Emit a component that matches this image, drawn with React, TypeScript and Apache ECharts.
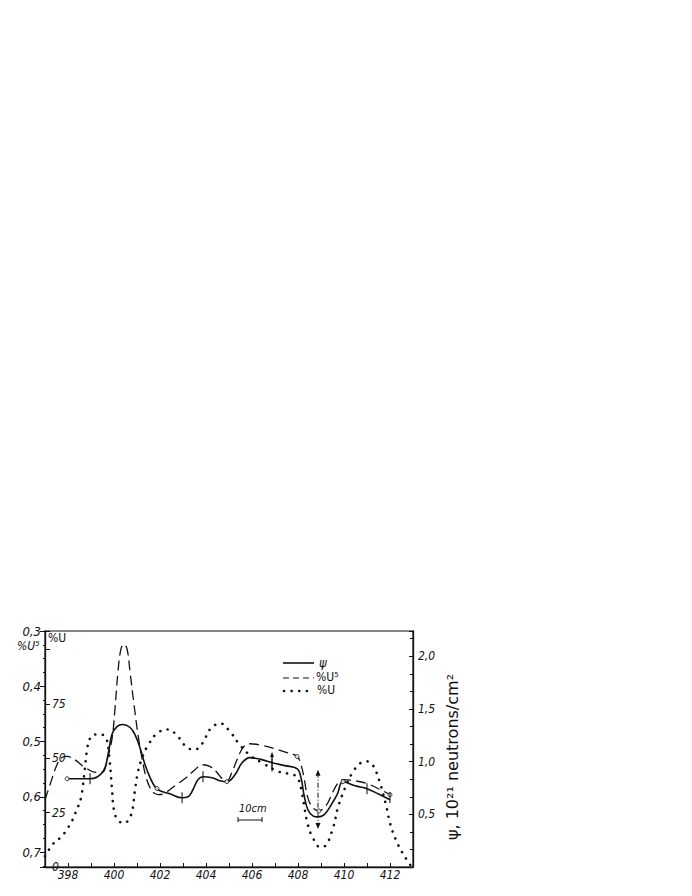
import React, { useEffect, useRef } from "react";
import * as echarts from "echarts";

// Ψ (10^21 neutrons/cm²) – solid curve, right axis
const psi: [number, number][] = [
  [397.96, 0.838], [398.96, 0.838], [399.52, 0.905], [399.74, 1.067], [399.91, 1.257],
  [400.13, 1.333], [400.39, 1.352], [400.7, 1.324], [400.91, 1.257], [401.13, 1.133],
  [401.35, 0.971], [401.57, 0.848], [401.78, 0.762], [402.0, 0.724], [402.43, 0.695],
  [402.96, 0.657], [403.22, 0.667], [403.43, 0.733], [403.65, 0.829], [403.87, 0.857],
  [404.26, 0.848], [404.61, 0.819], [404.91, 0.81], [405.26, 0.876], [405.57, 0.99],
  [405.91, 1.038], [406.43, 1.019], [406.87, 0.99], [407.43, 0.962], [407.96, 0.933],
  [408.13, 0.848], [408.26, 0.686], [408.43, 0.543], [408.65, 0.486], [408.87, 0.476],
  [409.13, 0.495], [409.39, 0.571], [409.7, 0.686], [409.96, 0.81], [410.48, 0.771],
  [411.0, 0.743], [411.48, 0.695], [412.0, 0.638],
];

// %U5 – dashed curve, outer left axis (inverted)
const u5: [number, number][] = [
  [397.0, 0.6055], [397.22, 0.578], [397.52, 0.542], [397.74, 0.529], [397.96, 0.527],
  [398.3, 0.533], [398.74, 0.547], [399.26, 0.556], [399.52, 0.555], [399.7, 0.533],
  [399.91, 0.496], [400.04, 0.442], [400.17, 0.375], [400.3, 0.333], [400.43, 0.324],
  [400.57, 0.333], [400.7, 0.375], [400.87, 0.433], [401.04, 0.487], [401.22, 0.531],
  [401.39, 0.564], [401.57, 0.584], [401.74, 0.593], [401.96, 0.596], [402.22, 0.593],
  [402.65, 0.58], [403.09, 0.567], [403.52, 0.551], [403.83, 0.542], [404.17, 0.545],
  [404.48, 0.556], [404.7, 0.567], [404.91, 0.571], [405.13, 0.555], [405.35, 0.533],
  [405.61, 0.511], [405.91, 0.504], [406.43, 0.507], [407.0, 0.513], [407.52, 0.52],
  [407.96, 0.527], [408.13, 0.542], [408.26, 0.565], [408.43, 0.602], [408.65, 0.62],
  [408.91, 0.625], [409.22, 0.616], [409.52, 0.591], [409.74, 0.575], [409.96, 0.569],
  [410.48, 0.571], [411.0, 0.576], [411.48, 0.585], [412.0, 0.596],
];

// %U – dotted curve, inner left axis
const uPct: [number, number][] = [
  [397.0, 5.0], [397.35, 10.6], [397.7, 13.8], [397.96, 17.4], [398.17, 21.1], [398.3, 24.3],
  [398.43, 27.5], [398.57, 32.1], [398.7, 42.0], [398.83, 54.0], [398.96, 59.2],
  [399.13, 61.0], [399.39, 61.0], [399.65, 59.6], [399.8, 50.0], [399.91, 36.2],
  [400.0, 26.1], [400.17, 21.6], [400.43, 20.2], [400.74, 23.9], [400.91, 35.3],
  [401.04, 43.6], [401.26, 51.4], [401.48, 56.0], [401.87, 61.5], [402.35, 63.3],
  [402.74, 60.5], [403.17, 55.0], [403.52, 54.1], [403.87, 57.3], [404.17, 63.3],
  [404.61, 66.1], [405.04, 62.4], [405.39, 57.3], [405.91, 51.4], [406.48, 47.7],
  [407.13, 44.0], [407.52, 43.1], [407.96, 41.3], [408.17, 33.9], [408.3, 26.1],
  [408.43, 19.3], [408.65, 13.3], [408.96, 9.2], [409.17, 9.6], [409.52, 17.9],
  [409.74, 27.5], [410.04, 36.2], [410.35, 43.1], [410.7, 47.7], [411.0, 48.6],
  [411.26, 46.8], [411.57, 38.5], [411.83, 28.4], [412.0, 20.2], [412.26, 12.4],
  [412.52, 6.9], [412.74, 3.2], [412.91, 0.5],
];

// open circles (Ψ scale)
const circles: [number, number][] = [
  [397.96, 0.838], [401.87, 0.745], [404.91, 0.81], [409.96, 0.81],
  [407.96, 1.048], [408.91, 0.533], [412.0, 0.686],
];
// short vertical marks (Ψ scale)
const marks: [number, number][] = [
  [398.96, 0.838], [402.96, 0.657], [403.87, 0.857], [406.87, 0.99], [411.0, 0.743], [412.0, 0.66],
];
// error bars (Ψ scale)
const errBar: [number, number][] = [[408.87, 0.895], [408.87, 0.39]];
const errBar2: [number, number][] = [[406.87, 1.067], [406.87, 0.905]];

const xTicks = { min: 397, max: 413, interval: 1 };
const u5Axis = { min: 0.3, max: 0.727, interval: 0.1 };
const uAxis = { min: 0, max: 108.6, interval: 25 };
const psiAxis = { min: 0, max: 2.24, interval: 0.5 };

const FONT = "'Liberation Sans Narrow', 'DejaVu Sans Condensed', 'Liberation Sans', sans-serif";
const INK = "#111";

export default function App() {
  const ref = useRef<HTMLDivElement>(null);
  useEffect(() => {
    if (!ref.current) return;
    const chart = echarts.init(ref.current, undefined, { renderer: "svg" });
    const labelBase = { color: INK, fontFamily: FONT, fontStyle: "italic" as const, fontSize: 12 };
    const option: any = {
      animation: false,
      backgroundColor: "#fff",
      grid: { left: 45, right: 279, top: 631, bottom: 29, show: true, borderColor: INK, borderWidth: 1.2 },
      xAxis: {
        type: "value",
        ...xTicks,
        axisLine: { lineStyle: { color: INK, width: 1.3 } },
        axisTick: { inside: true, length: 4, lineStyle: { color: INK } },
        splitLine: { show: false },
        axisLabel: {
          ...labelBase,
          margin: 2,
          formatter: (v: number) => (Math.round(v) % 2 === 0 ? String(Math.round(v)) : ""),
        },
      },
      yAxis: [
        {
          type: "value",
          position: "left",
          inverse: true,
          ...u5Axis,
          axisLine: { show: true, lineStyle: { color: INK, width: 1.3 } },
          axisTick: { show: true, inside: false, length: 5, lineStyle: { color: INK } },
          minorTick: { show: true, splitNumber: 4, length: 2, lineStyle: { color: INK } },
          splitLine: { show: false },
          axisLabel: {
            ...labelBase,
            fontSize: 13,
            margin: 4,
            formatter: (v: number) => {
              const r = Math.round(v * 10) / 10;
              return Math.abs(r - v) < 1e-6 && r <= 0.7 + 1e-9 ? r.toFixed(1).replace(".", ",") : "";
            },
          },
        },
        {
          type: "value",
          position: "left",
          ...uAxis,
          axisLine: { show: false },
          axisTick: { show: true, inside: true, length: 5, lineStyle: { color: INK } },
          splitLine: { show: false },
          axisLabel: {
            ...labelBase,
            inside: true,
            margin: 7,
            formatter: (v: number) => (v % 25 === 0 && v <= 75 ? String(v) : ""),
          },
        },
        {
          type: "value",
          position: "right",
          ...psiAxis,
          axisLine: { show: true, lineStyle: { color: INK, width: 1.3 } },
          axisTick: { show: true, inside: true, length: 4, lineStyle: { color: INK } },
          minorTick: { show: true, splitNumber: 3, length: 3, lineStyle: { color: INK } },
          splitLine: { show: false },
          axisLabel: {
            ...labelBase,
            margin: 5,
            formatter: (v: number) =>
              Math.abs(v % 0.5) < 1e-6 && v > 0 && v <= 2.0 ? v.toFixed(1).replace(".", ",") : "",
          },
        },
      ],
      series: [
        {
          name: "%U",
          type: "line",
          yAxisIndex: 1,
          data: uPct,
          smooth: 0.4,
          showSymbol: false,
          lineStyle: { color: INK, width: 2.6, type: [0.1, 7.5], cap: "round" },
        },
        {
          name: "%U5",
          type: "line",
          yAxisIndex: 0,
          data: u5,
          smooth: 0.4,
          showSymbol: false,
          lineStyle: { color: INK, width: 1.3, type: [10, 5] },
        },
        {
          name: "ψ",
          type: "line",
          yAxisIndex: 2,
          data: psi,
          smooth: 0.4,
          showSymbol: false,
          lineStyle: { color: INK, width: 1.6 },
        },
        {
          type: "scatter",
          yAxisIndex: 2,
          data: circles,
          symbol: "circle",
          symbolSize: 4,
          itemStyle: { color: "#fff", borderColor: INK, borderWidth: 1 },
          z: 5,
        },
        {
          type: "scatter",
          yAxisIndex: 2,
          data: marks,
          symbol: "rect",
          symbolSize: [1.3, 11],
          itemStyle: { color: INK },
          z: 5,
        },
        {
          type: "line",
          yAxisIndex: 2,
          data: [
            { value: errBar[0], symbol: "triangle", symbolSize: [5, 6], symbolRotate: 0 },
            { value: errBar[1], symbol: "triangle", symbolSize: [5, 6], symbolRotate: 180 },
          ],
          lineStyle: { color: INK, width: 1, type: [5, 2, 1, 2] },
          itemStyle: { color: INK },
          z: 4,
        },
        {
          type: "line",
          yAxisIndex: 2,
          data: [
            { value: errBar2[0], symbol: "triangle", symbolSize: [4, 5], symbolRotate: 0 },
            { value: errBar2[1], symbol: "none" },
          ],
          lineStyle: { color: INK, width: 1 },
          itemStyle: { color: INK },
          z: 4,
        },
      ],
      graphic: [
        { type: "text", left: 17, top: 640, style: { text: "%U⁵", fill: INK, font: `italic 12px ${FONT}` } },
        { type: "text", left: 48, top: 632, style: { text: "%U", fill: INK, font: `12px ${FONT}` } },
        // legend
        { type: "line", shape: { x1: 283, y1: 663, x2: 314, y2: 663 }, style: { stroke: INK, lineWidth: 1.6 } },
        { type: "text", left: 319, top: 656, style: { text: "ψ", fill: INK, font: `italic 13px ${FONT}` } },
        { type: "line", shape: { x1: 283, y1: 678, x2: 314, y2: 678 }, style: { stroke: INK, lineWidth: 1.2, lineDash: [6, 4] } },
        { type: "text", left: 316, top: 671, style: { text: "%U⁵", fill: INK, font: `12px ${FONT}` } },
        { type: "line", shape: { x1: 284, y1: 691, x2: 314, y2: 691 }, style: { stroke: INK, lineWidth: 2.6, lineDash: [0.1, 7.5], lineCap: "round" } },
        { type: "text", left: 317, top: 684, style: { text: "%U", fill: INK, font: `12px ${FONT}` } },
        // 10 cm scale
        { type: "text", left: 239, top: 803, style: { text: "10cm", fill: INK, font: `italic 11px ${FONT}` } },
        { type: "line", shape: { x1: 238, y1: 820, x2: 262, y2: 820 }, style: { stroke: INK, lineWidth: 1 } },
        { type: "line", shape: { x1: 238, y1: 817, x2: 238, y2: 822 }, style: { stroke: INK, lineWidth: 1 } },
        { type: "line", shape: { x1: 262, y1: 817, x2: 262, y2: 822 }, style: { stroke: INK, lineWidth: 1 } },
        // right axis title
        {
          type: "text",
          x: 452,
          y: 757,
          rotation: Math.PI / 2,
          style: {
            text: "ψ, 10²¹ neutrons/cm²",
            fill: INK,
            font: `16px 'DejaVu Sans', sans-serif`,
            align: "center",
            verticalAlign: "middle",
          },
        },
      ],
    };
    chart.setOption(option);
    return () => chart.dispose();
  }, []);
  return <div ref={ref} style={{ position: "fixed", left: 0, top: 0, width: 692, height: 896 }} />;
}
